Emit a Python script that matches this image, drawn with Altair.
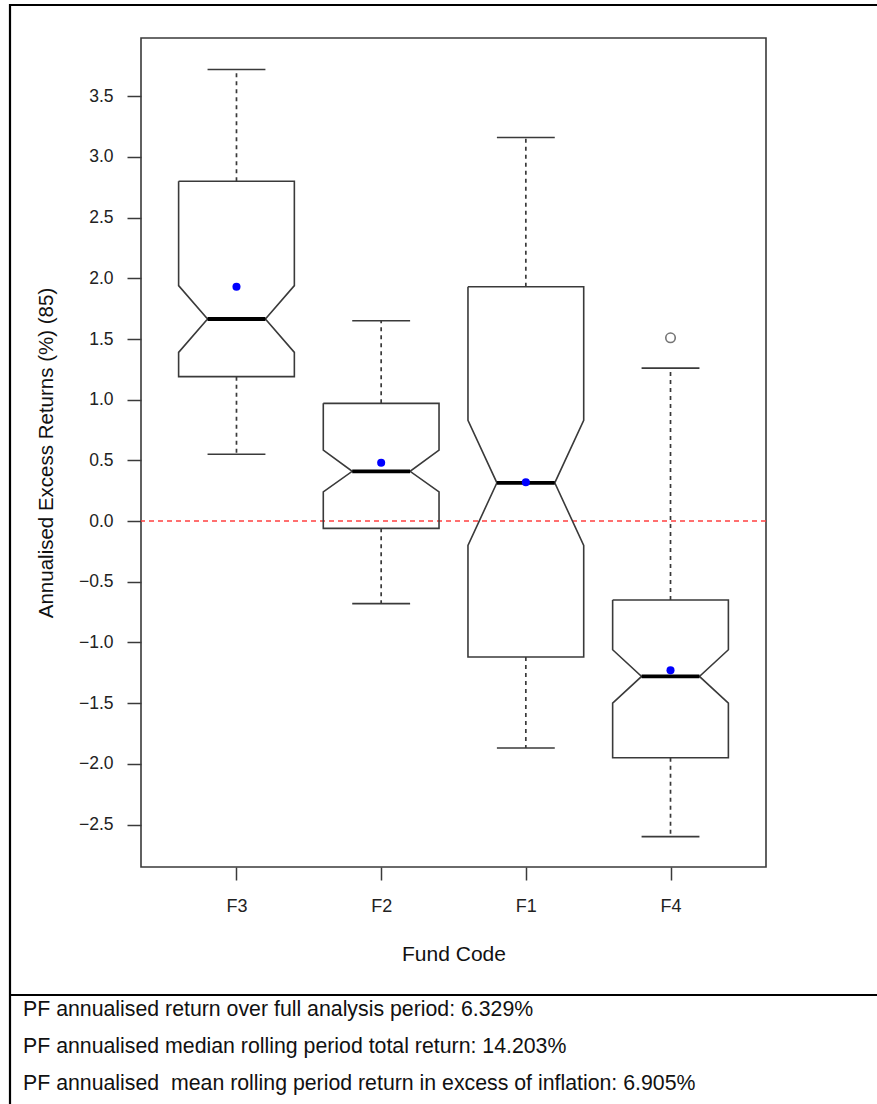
import altair as alt
import pandas as pd

# Notched boxplot summary per fund (annualised excess returns, %)
funds = ["F3", "F2", "F1", "F4"]
positions = [1, 2, 3, 4]
whisker_low = [0.55, -0.68, -1.87, -2.60]
q1 = [1.19, -0.06, -1.12, -1.95]
notch_low = [1.39, 0.24, -0.20, -1.50]
median = [1.665, 0.41, 0.315, -1.28]
notch_high = [1.94, 0.585, 0.83, -1.06]
q3 = [2.80, 0.97, 1.93, -0.65]
whisker_high = [3.72, 1.65, 3.16, 1.26]
means = [1.93, 0.48, 0.32, -1.23]
outlier_fund = ["F4"]
outlier_pos = [4]
outlier_value = [1.51]

y_ticks = [-2.5, -2.0, -1.5, -1.0, -0.5, 0.0, 0.5, 1.0, 1.5, 2.0, 2.5, 3.0, 3.5]

footer_lines = [
    "PF annualised return over full analysis period: 6.329%",
    "PF annualised median rolling period total return: 14.203%",
    "PF annualised \u00a0mean rolling period return in excess of inflation: 6.905%",
]

# box geometry in axis units (R-style boxwex 0.8, notch.frac 0.5, staplewex 0.5)
half_box = 0.4
half_notch = 0.2
half_staple = 0.2

W, H = 625, 829
FONT = "Liberation Sans, Arial, sans-serif"
LINE = "#3a3a3a"

xs = alt.Scale(domain=[0.34, 4.66], nice=False, zero=False)
ys = alt.Scale(domain=[-2.85, 3.98], nice=False, zero=False)

# notched box outlines as closed polygons
rows = []
for f, p, a, nl, m, nh, b in zip(funds, positions, q1, notch_low, median, notch_high, q3):
    pts = [
        (p - half_box, b), (p - half_box, nh), (p - half_notch, m), (p - half_box, nl),
        (p - half_box, a), (p + half_box, a), (p + half_box, nl), (p + half_notch, m),
        (p + half_box, nh), (p + half_box, b), (p - half_box, b),
    ]
    for k, (x, y) in enumerate(pts):
        rows.append({"fund": f, "k": k, "x": x, "y": y})
outline_df = pd.DataFrame(rows)

whisk_rows = []
for f, p, lo, a, b, hi in zip(funds, positions, whisker_low, q1, q3, whisker_high):
    whisk_rows.append({"fund": f, "x": p, "y": a, "y2": lo})
    whisk_rows.append({"fund": f, "x": p, "y": b, "y2": hi})
whisk_df = pd.DataFrame(whisk_rows)

staple_rows = []
for f, p, lo, hi in zip(funds, positions, whisker_low, whisker_high):
    for v in (lo, hi):
        staple_rows.append({"fund": f, "x": p - half_staple, "x2": p + half_staple, "y": v})
staple_df = pd.DataFrame(staple_rows)

median_df = pd.DataFrame({
    "fund": funds,
    "x": [p - half_notch for p in positions],
    "x2": [p + half_notch for p in positions],
    "y": median,
})
mean_df = pd.DataFrame({"fund": funds, "x": positions, "y": means})
out_df = pd.DataFrame({"fund": outlier_fund, "x": outlier_pos, "y": outlier_value})

label_expr = "[" + ",".join(f"'{f}'" for f in funds) + "][datum.value - 1]"

x_axis = alt.Axis(
    values=positions, labelExpr=label_expr, title="Fund Code",
    tickSize=13, labelPadding=17, labelFontSize=18,
    titleFontSize=21, titleBaseline="alphabetic", titleY=93,
)
y_axis = alt.Axis(
    values=y_ticks, format=".1f", title="Annualised Excess Returns (%) (85)",
    tickSize=14, labelPadding=14, labelFontSize=17.5,
    titleFontSize=20.5, titleBaseline="alphabetic", titleX=-89,
)


def xenc(field="x"):
    return alt.X(f"{field}:Q", scale=xs, axis=x_axis)


def yenc(field="y"):
    return alt.Y(f"{field}:Q", scale=ys, axis=y_axis)


zero_line = alt.Chart(alt.Data(values=[{}])).mark_rule(
    color="#ff4040", strokeDash=[5, 4], strokeWidth=1.5
).encode(y=alt.Y(datum=0, scale=ys, axis=y_axis))

boxes = alt.Chart(outline_df).mark_line(color=LINE, strokeWidth=1.6).encode(
    x=xenc(), y=yenc(), detail="fund:N", order="k:Q",
)

whiskers = alt.Chart(whisk_df).mark_rule(color=LINE, strokeWidth=1.7, strokeDash=[4, 4]).encode(
    x=xenc(), y=yenc(), y2="y2:Q",
)

staples = alt.Chart(staple_df).mark_rule(color=LINE, strokeWidth=1.6).encode(
    x=xenc(), x2="x2:Q", y=yenc(),
)

medians = alt.Chart(median_df).mark_rule(color="#000000", strokeWidth=3.8).encode(
    x=xenc(), x2="x2:Q", y=yenc(),
)

mean_dots = alt.Chart(mean_df).mark_circle(color="#0000ff", size=65, opacity=1).encode(
    x=xenc(), y=yenc(),
)

outliers = alt.Chart(out_df).mark_point(
    shape="circle", filled=False, color=LINE, size=90, strokeWidth=1.6
).encode(x=xenc(), y=yenc())

# surrounding frame: top edge, left edge and the divider above the notes
blank = alt.Data(values=[{}])
frame_top = alt.Chart(blank).mark_rule(color="#000000", strokeWidth=2.2).encode(
    x=alt.value(-132), x2=alt.value(740), y=alt.value(-33)
)
frame_left = alt.Chart(blank).mark_rule(color="#000000", strokeWidth=2.2).encode(
    x=alt.value(-131), y=alt.value(-34), y2=alt.value(1070)
)
frame_div = alt.Chart(blank).mark_rule(color="#000000", strokeWidth=2.2).encode(
    x=alt.value(-132), x2=alt.value(740), y=alt.value(957)
)

notes = []
for i, line in enumerate(footer_lines):
    notes.append(
        alt.Chart(blank).mark_text(
            text=line, align="left", baseline="middle", font=FONT,
            fontSize=21.3, color="#111111",
        ).encode(x=alt.value(-118), y=alt.value(972 + 37 * i))
    )

chart = alt.layer(
    zero_line, boxes, whiskers, staples, medians, mean_dots, outliers,
    frame_top, frame_left, frame_div, *notes,
).properties(
    width=W, height=H,
    autosize=alt.AutoSizeParams(type="none"),
    padding={"left": 141, "top": 38, "right": 111, "bottom": 237},
    background="white",
).configure_view(
    stroke=LINE, strokeWidth=1.6
).configure_axis(
    domain=False, grid=False, tickColor=LINE, tickWidth=1.5,
    labelFont=FONT, titleFont=FONT, labelColor="#222222", titleColor="#111111",
    titleFontWeight="normal",
)

chart.save("out.html", embed_options={"renderer": "svg", "actions": False})
